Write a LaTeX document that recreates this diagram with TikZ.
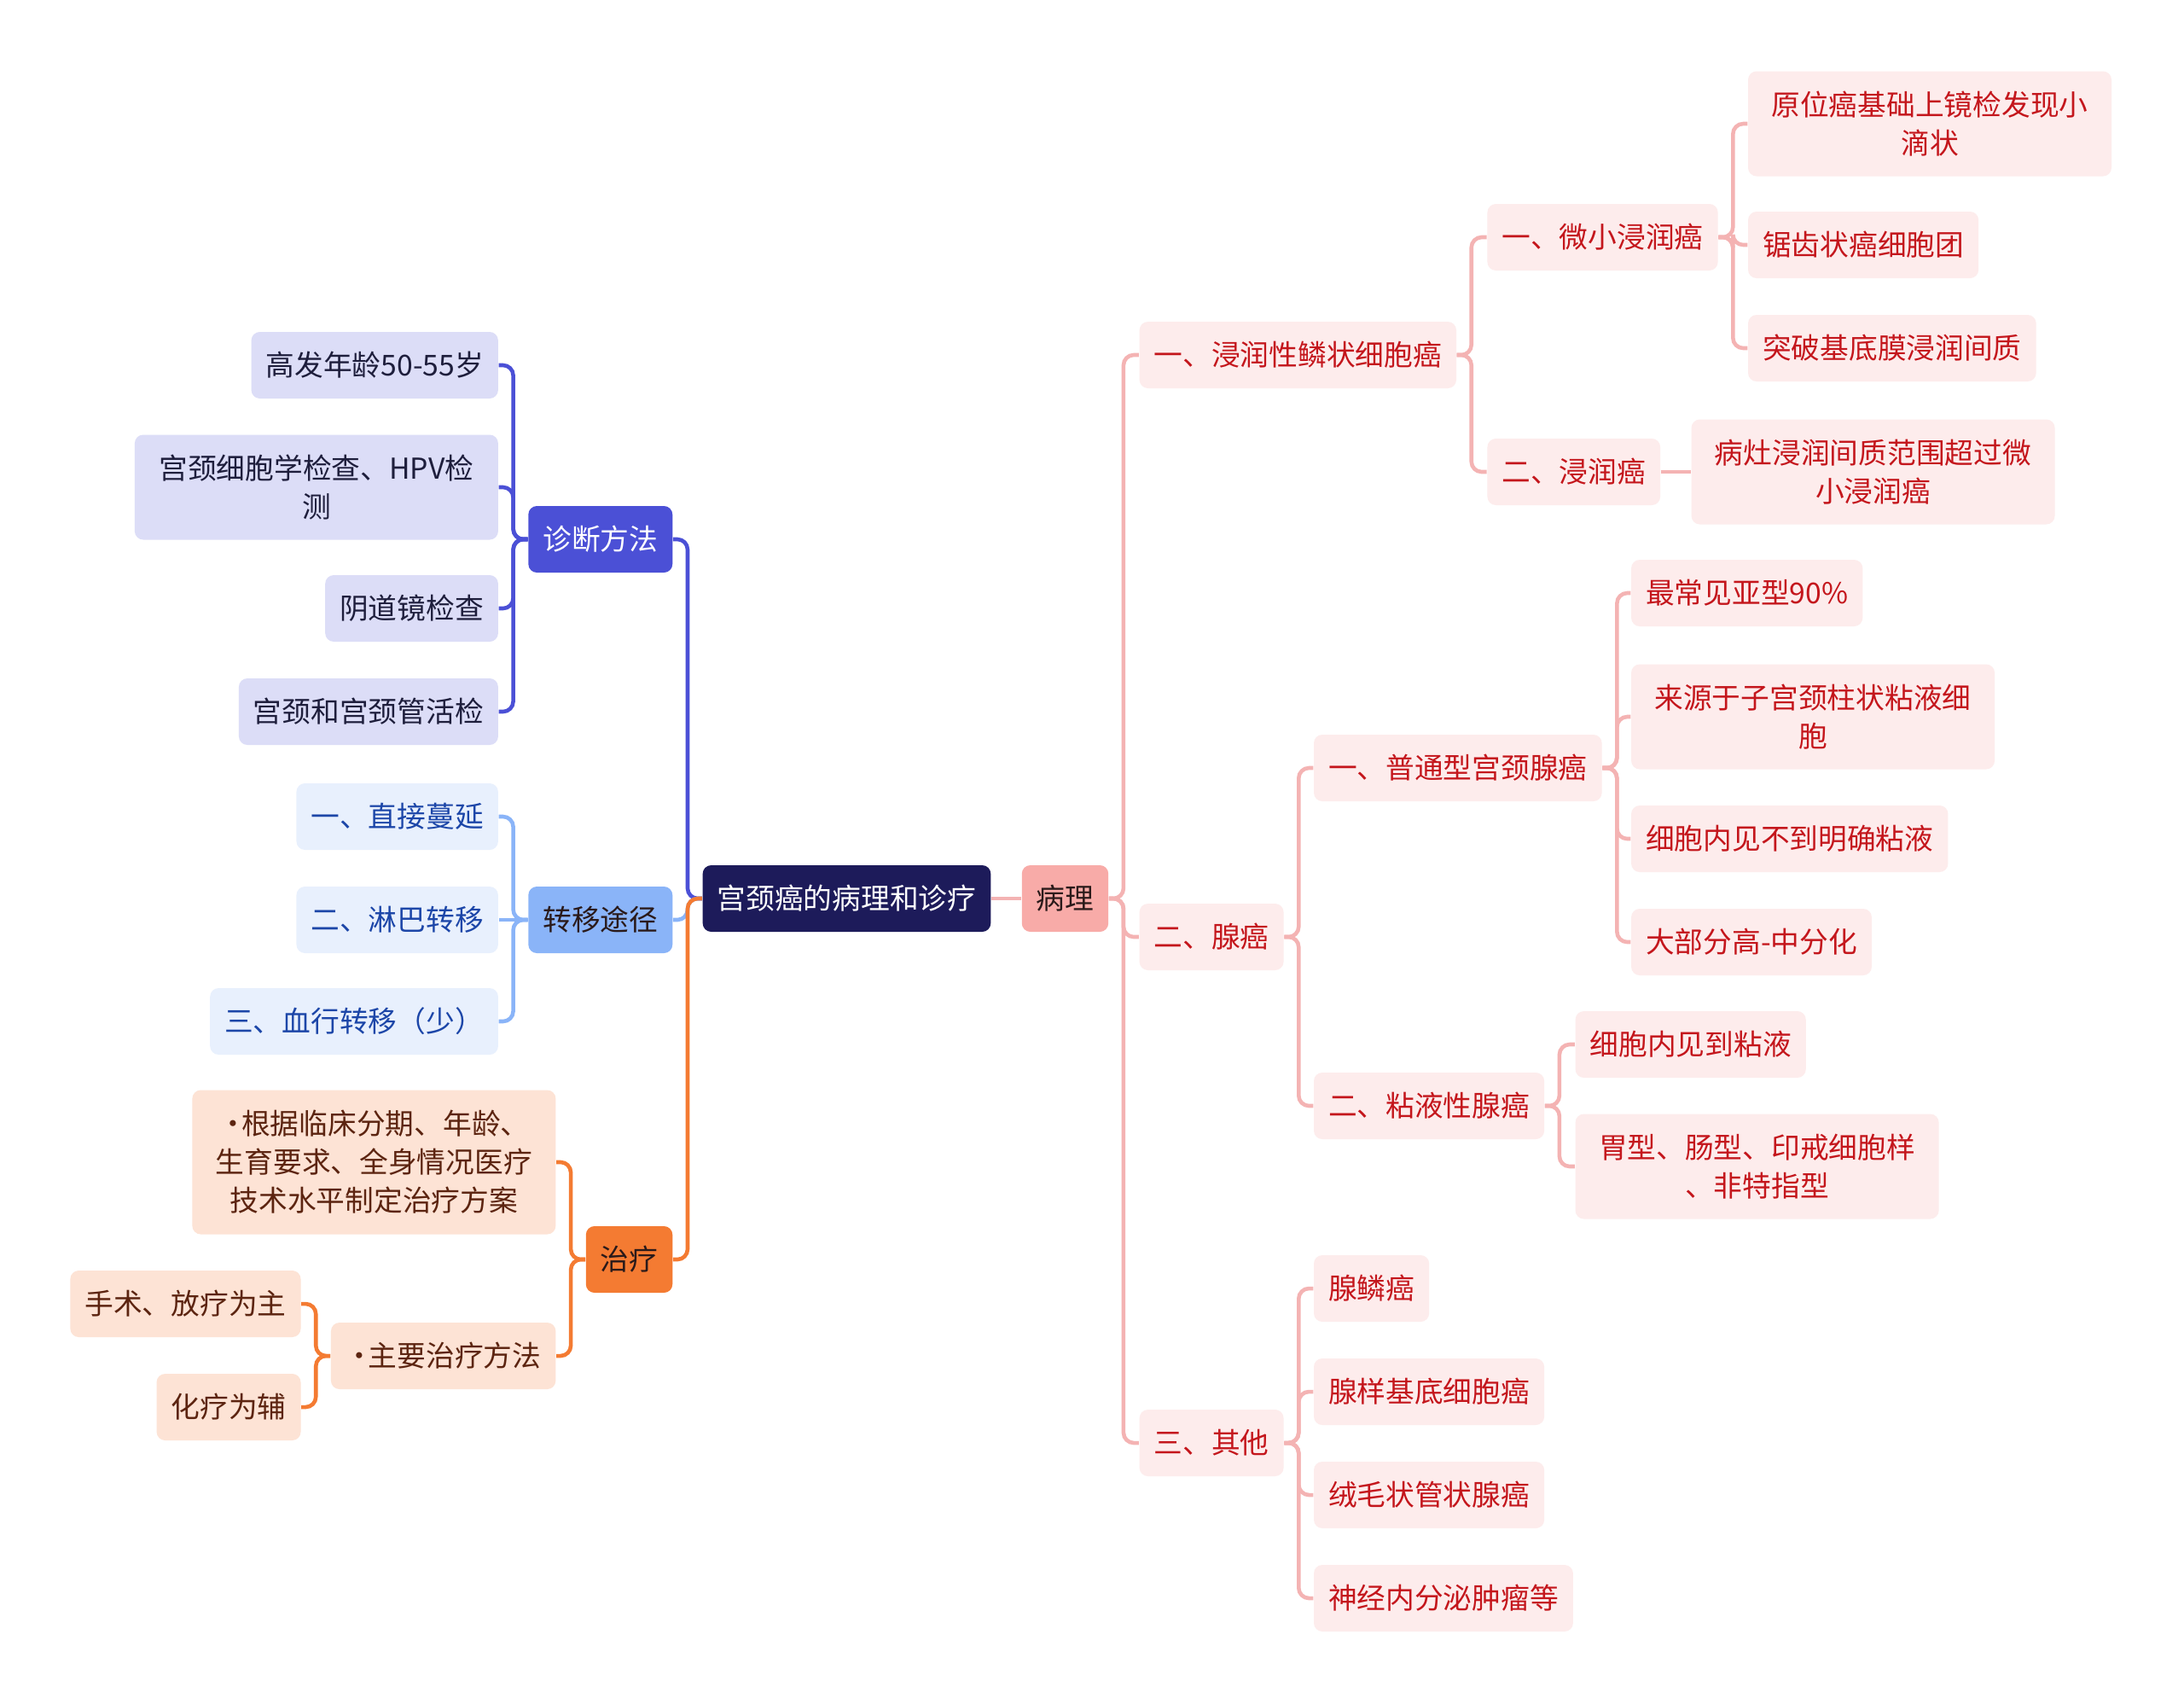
\documentclass[tikz,border=0pt]{standalone}
\usepackage{fontspec}
\setmainfont{Noto Sans CJK SC}
\usetikzlibrary{positioning}
\definecolor{rootNavy}{HTML}{1D1B5A}
\definecolor{diagBlue}{HTML}{4B50D6}
\definecolor{diagSoft}{HTML}{DCDDF7}
\definecolor{diagText}{HTML}{1E1E3C}
\definecolor{metaBlue}{HTML}{8AB4F8}
\definecolor{metaSoft}{HTML}{E8F0FD}
\definecolor{metaText}{HTML}{1C46A8}
\definecolor{treatOrange}{HTML}{F47B32}
\definecolor{treatSoft}{HTML}{FDE3D5}
\definecolor{treatText}{HTML}{5C2410}
\definecolor{pathPink}{HTML}{F8ABA8}
\definecolor{pathLine}{HTML}{F4B3B3}
\definecolor{pathSoft}{HTML}{FDECEC}
\definecolor{pathText}{HTML}{C4161C}
\definecolor{darkText}{HTML}{2A1A1A}

\begin{document}
\begin{tikzpicture}[
      font=\fontsize{9.6pt}{12.8pt}\selectfont,
      topicbox/.style={rectangle, rounded corners=0.1cm, inner xsep=0.17cm, inner ysep=0.2cm, minimum height=0.78cm, align=center},
      twoline/.style={text width=3.92cm, minimum height=1.23cm},
      threeline/.style={text width=3.92cm, minimum height=1.69cm},
      rootbox/.style={topicbox, fill=rootNavy, text=white},
      diagHead/.style={topicbox, fill=diagBlue, text=white},
      diagLeaf/.style={topicbox, fill=diagSoft, text=diagText},
      metaHead/.style={topicbox, fill=metaBlue, text=darkText},
      metaLeaf/.style={topicbox, fill=metaSoft, text=metaText},
      treatHead/.style={topicbox, fill=treatOrange, text=darkText},
      treatLeaf/.style={topicbox, fill=treatSoft, text=treatText},
      pathHead/.style={topicbox, fill=pathPink, text=darkText},
      pathLeaf/.style={topicbox, fill=pathSoft, text=pathText},
      link/.style={line width=1.3pt, rounded corners=0.12cm},
      diagLink/.style={link, draw=diagBlue},
      metaLink/.style={link, draw=metaBlue},
      treatLink/.style={link, draw=treatOrange},
      pathLink/.style={link, draw=pathLine}
    ]
      \fill[white] (0,0) rectangle (25.6,-19.96);
      \useasboundingbox (0,0) rectangle (25.6,-19.96);

      % centre
      \node[rootbox] (root) at (9.925,-10.53) {宫颈癌的病理和诊疗};
      \node[pathHead, right=0.35cm of root] (path) {病理};

      % left: diagnosis
      \node[diagHead, left=0.34cm of root, yshift=4.21cm] (diag) {诊断方法};
      \node[diagLeaf, left=0.34cm of diag, yshift=2.04cm] (age) {高发年龄50-55岁};
      \node[diagLeaf, twoline, left=0.34cm of diag, yshift=0.61cm] (cyto) {宫颈细胞学检查、HPV检\\测};
      \node[diagLeaf, left=0.34cm of diag, yshift=-0.81cm] (scope) {阴道镜检查};
      \node[diagLeaf, left=0.34cm of diag, yshift=-2.02cm] (biopsy) {宫颈和宫颈管活检};

      % left: spread
      \node[metaHead, left=0.34cm of root, yshift=-0.25cm] (meta) {转移途径};
      \node[metaLeaf, left=0.34cm of meta, yshift=1.21cm] (direct) {一、直接蔓延};
      \node[metaLeaf, left=0.34cm of meta] (lymph) {二、淋巴转移};
      \node[metaLeaf, left=0.34cm of meta, yshift=-1.19cm] (blood) {三、血行转移（少）};

      % left: treatment
      \node[treatHead, left=0.34cm of root, yshift=-4.23cm] (treat) {治疗};
      \node[treatLeaf, threeline, left=0.34cm of treat, yshift=1.14cm] (plan) {•\kern-0.2em 根据临床分期、年龄、\\生育要求、全身情况医疗\\技术水平制定治疗方案};
      \node[treatLeaf, left=0.34cm of treat, yshift=-1.13cm] (method) {•\kern-0.2em 主要治疗方法};
      \node[treatLeaf, left=0.34cm of method, yshift=0.61cm] (surgery) {手术、放疗为主};
      \node[treatLeaf, left=0.34cm of method, yshift=-0.60cm] (chemo) {化疗为辅};

      % right: pathology
      \node[pathLeaf, right=0.35cm of path, yshift=6.37cm] (squam) {一、浸润性鳞状细胞癌};
      \node[pathLeaf, right=0.35cm of squam, yshift=1.38cm] (micro) {一、微小浸润癌};
      \node[pathLeaf, twoline, right=0.34cm of micro, yshift=1.33cm] (insitu) {原位癌基础上镜检发现小\\滴状};
      \node[pathLeaf, right=0.34cm of micro, yshift=-0.09cm] (serrate) {锯齿状癌细胞团};
      \node[pathLeaf, right=0.34cm of micro, yshift=-1.30cm] (breach) {突破基底膜浸润间质};
      \node[pathLeaf, right=0.35cm of squam, yshift=-1.37cm] (invas) {二、浸润癌};
      \node[pathLeaf, twoline, right=0.35cm of invas] (focus) {病灶浸润间质范围超过微\\小浸润癌};

      \node[pathLeaf, right=0.35cm of path, yshift=-0.45cm] (adeno) {二、腺癌};
      \node[pathLeaf, right=0.34cm of adeno, yshift=1.98cm] (common) {一、普通型宫颈腺癌};
      \node[pathLeaf, right=0.33cm of common, yshift=2.05cm] (subtype) {最常见亚型90\%};
      \node[pathLeaf, twoline, right=0.33cm of common, yshift=0.60cm] (origin) {来源于子宫颈柱状粘液细\\胞};
      \node[pathLeaf, right=0.33cm of common, yshift=-0.83cm] (nomucus) {细胞内见不到明确粘液};
      \node[pathLeaf, right=0.33cm of common, yshift=-2.04cm] (grade) {大部分高-中分化};
      \node[pathLeaf, right=0.34cm of adeno, yshift=-1.98cm] (mucin) {二、粘液性腺癌};
      \node[pathLeaf, right=0.35cm of mucin, yshift=0.72cm] (mucus) {细胞内见到粘液};
      \node[pathLeaf, twoline, right=0.35cm of mucin, yshift=-0.71cm] (gastric) {胃型、肠型、印戒细胞样\\、非特指型};

      \node[pathLeaf, right=0.35cm of path, yshift=-6.38cm] (other) {三、其他};
      \node[pathLeaf, right=0.34cm of other, yshift=1.81cm] (adsq) {腺鳞癌};
      \node[pathLeaf, right=0.34cm of other, yshift=0.60cm] (basal) {腺样基底细胞癌};
      \node[pathLeaf, right=0.34cm of other, yshift=-0.61cm] (villous) {绒毛状管状腺癌};
      \node[pathLeaf, right=0.34cm of other, yshift=-1.82cm] (neuro) {神经内分泌肿瘤等};

      % connectors
      \draw[pathLink] (root) -- (path);
      \draw[diagLink] (root.west) -- ++(-0.17,0) |- (diag.east);
      \draw[metaLink] (root.west) -- ++(-0.17,0) |- (meta.east);
      \draw[treatLink] (root.west) -- ++(-0.17,0) |- (treat.east);

      \draw[diagLink] (diag.west) -- ++(-0.17,0) |- (age.east);
      \draw[diagLink] (diag.west) -- ++(-0.17,0) |- (cyto.east);
      \draw[diagLink] (diag.west) -- ++(-0.17,0) |- (scope.east);
      \draw[diagLink] (diag.west) -- ++(-0.17,0) |- (biopsy.east);

      \draw[metaLink] (meta.west) -- ++(-0.17,0) |- (direct.east);
      \draw[metaLink] (meta.west) -- (lymph.east);
      \draw[metaLink] (meta.west) -- ++(-0.17,0) |- (blood.east);

      \draw[treatLink] (treat.west) -- ++(-0.17,0) |- (plan.east);
      \draw[treatLink] (treat.west) -- ++(-0.17,0) |- (method.east);
      \draw[treatLink] (method.west) -- ++(-0.17,0) |- (surgery.east);
      \draw[treatLink] (method.west) -- ++(-0.17,0) |- (chemo.east);

      \draw[pathLink] (path.east) -- ++(0.17,0) |- (squam.west);
      \draw[pathLink] (path.east) -- ++(0.17,0) |- (adeno.west);
      \draw[pathLink] (path.east) -- ++(0.17,0) |- (other.west);

      \draw[pathLink] (squam.east) -- ++(0.17,0) |- (micro.west);
      \draw[pathLink] (squam.east) -- ++(0.17,0) |- (invas.west);
      \draw[pathLink] (micro.east) -- ++(0.17,0) |- (insitu.west);
      \draw[pathLink] (micro.east) -- ++(0.17,0) |- (serrate.west);
      \draw[pathLink] (micro.east) -- ++(0.17,0) |- (breach.west);
      \draw[pathLink] (invas) -- (focus);

      \draw[pathLink] (adeno.east) -- ++(0.17,0) |- (common.west);
      \draw[pathLink] (adeno.east) -- ++(0.17,0) |- (mucin.west);
      \draw[pathLink] (common.east) -- ++(0.17,0) |- (subtype.west);
      \draw[pathLink] (common.east) -- ++(0.17,0) |- (origin.west);
      \draw[pathLink] (common.east) -- ++(0.17,0) |- (nomucus.west);
      \draw[pathLink] (common.east) -- ++(0.17,0) |- (grade.west);
      \draw[pathLink] (mucin.east) -- ++(0.17,0) |- (mucus.west);
      \draw[pathLink] (mucin.east) -- ++(0.17,0) |- (gastric.west);

      \draw[pathLink] (other.east) -- ++(0.17,0) |- (adsq.west);
      \draw[pathLink] (other.east) -- ++(0.17,0) |- (basal.west);
      \draw[pathLink] (other.east) -- ++(0.17,0) |- (villous.west);
      \draw[pathLink] (other.east) -- ++(0.17,0) |- (neuro.west);
    \end{tikzpicture}
\end{document}
